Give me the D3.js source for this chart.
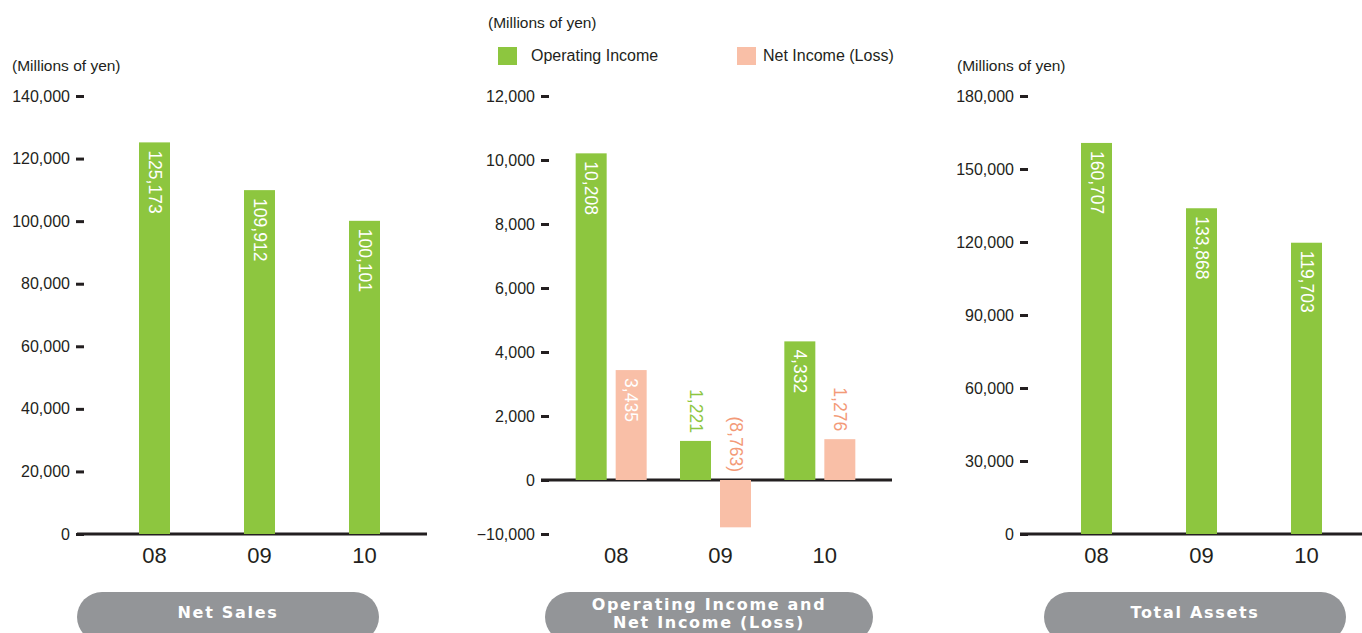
<!DOCTYPE html>
<html>
<head>
<meta charset="utf-8">
<script src="https://cdn.jsdelivr.net/npm/d3@7"></script>
<style>
  body { margin: 0; background: #fff; }
  svg { display: block; font-family: "Liberation Sans", Arial, sans-serif; }
  .tick text { fill: #231f20; font-size: 16px; }
  .tick line { stroke: #231f20; stroke-width: 3; }
</style>
</head>
<body>
<div class="chart"></div>
<script>
// data
var years = ["08", "09", "10"];
var netSales = [125173, 109912, 100101];
var operatingIncome = [10208, 1221, 4332];
var netIncome = [3435, -8763, 1276];
var totalAssets = [160707, 133868, 119703];
var salesTicks = [0, 20000, 40000, 60000, 80000, 100000, 120000, 140000];
var incomeTicks = [-10000, 0, 2000, 4000, 6000, 8000, 10000, 12000];
var assetTicks = [0, 30000, 60000, 90000, 120000, 150000, 180000];

var green = "#8dc63f";
var pink = "#f9bfa7";
var pinkText = "#f39a78";
var dark = "#231f20";
var gray = "#939598";

var svgWidth = 1362;
var svgHeight = 633;

var svg = d3.select(".chart")
  .append("svg")
  .attr("width", svgWidth)
  .attr("height", svgHeight);

var fmt = d3.format(",");
function labelText(v) {
  return v < 0 ? "(" + fmt(-v) + ")" : fmt(v);
}

// draws one axis + baseline + category labels
function drawFrame(yScale, ticks, axisX, lineX0, lineX1, xScale, labelShift, unitX, unitY) {
  svg.append("g")
    .attr("transform", `translate(${axisX + 8}, 0)`)
    .call(d3.axisLeft(yScale).tickValues(ticks).tickSize(8).tickPadding(6).tickFormat(fmt))
    .call(g => g.select(".domain").remove());

  svg.append("line")
    .attr("x1", lineX0).attr("x2", lineX1)
    .attr("y1", yScale(0)).attr("y2", yScale(0))
    .attr("stroke", dark)
    .attr("stroke-width", 3);

  svg.append("g").selectAll("text")
    .data(years)
    .enter()
    .append("text")
    .attr("x", d => xScale(d) + xScale.bandwidth() / 2 + labelShift)
    .attr("y", 563)
    .attr("text-anchor", "middle")
    .attr("font-size", "22px")
    .attr("fill", dark)
    .text(d => d);

  svg.append("text")
    .attr("x", unitX)
    .attr("y", unitY)
    .attr("font-size", "15.5px")
    .attr("fill", dark)
    .text("(Millions of yen)");
}

// bars with rotated value labels
function drawBars(values, xPos, width, yScale, color, textColor) {
  var zero = yScale(0);
  var g = svg.append("g");
  g.selectAll("rect")
    .data(values)
    .enter()
    .append("rect")
    .attr("x", (d, i) => xPos(i))
    .attr("y", d => Math.min(yScale(d), zero))
    .attr("width", width)
    .attr("height", d => Math.abs(yScale(d) - zero))
    .attr("fill", color);

  g.selectAll("text")
    .data(values)
    .enter()
    .append("text")
    .each(function(d, i) {
      var top = Math.min(yScale(d), zero);
      var h = Math.abs(yScale(d) - zero);
      var inside = d > 0 && h > 90;
      var cx = xPos(i) + width / 2;
      var t = d3.select(this)
        .attr("font-size", "17.5px")
        .attr("dominant-baseline", "central")
        .text(labelText(d));
      if (inside) {
        t.attr("transform", `translate(${cx}, ${top + 8}) rotate(90)`)
          .attr("text-anchor", "start")
          .attr("fill", "#fff");
      } else {
        t.attr("transform", `translate(${cx}, ${top - 8}) rotate(90)`)
          .attr("text-anchor", "end")
          .attr("fill", textColor);
      }
    });
}

function drawPill(x0, x1, lines) {
  svg.append("rect")
    .attr("x", x0).attr("y", 592)
    .attr("width", x1 - x0).attr("height", 50)
    .attr("rx", 25)
    .attr("fill", gray);
  lines.forEach(function(s, i) {
    svg.append("text")
      .attr("x", (x0 + x1) / 2)
      .attr("y", lines.length == 1 ? 618 : 610 + i * 18)
      .attr("text-anchor", "middle")
      .attr("font-family", "'DejaVu Sans', sans-serif")
      .attr("font-weight", "bold")
      .attr("font-size", "16px")
      .attr("letter-spacing", "1.7px")
      .attr("fill", "#fff")
      .text(s);
  });
}

// Net Sales
var y1 = d3.scaleLinear().domain([0, 140000]).range([534, 96]);
var x1 = d3.scaleBand().domain(years).range([102, 417]);
drawFrame(y1, salesTicks, 76, 77, 427, x1, 0, 12, 71);
drawBars(netSales, i => x1(years[i]) + x1.bandwidth() / 2 - 15.5, 31, y1, green, green);
drawPill(77, 379, ["Net Sales"]);

// Operating income / net income, compressed negative part
var y2 = d3.scaleLinear().domain([-10000, 0, 12000]).range([534, 480, 96]);
var x2 = d3.scaleBand().domain(years).range([559, 872]);
drawFrame(y2, incomeTicks, 541, 541, 892, x2, 5, 488, 28);
drawBars(operatingIncome, i => x2(years[i]) + x2.bandwidth() / 2 - 35.5, 31, y2, green, green);
drawBars(netIncome, i => x2(years[i]) + x2.bandwidth() / 2 + 4.5, 31, y2, pink, pinkText);
drawPill(545, 873, ["Operating Income and", "Net Income (Loss)"]);

// legend
var legendNames = ["Operating Income", "Net Income (Loss)"];
var legendColors = [green, pink];
var legendX = [498, 737];
var legendTextX = [531, 763];
legendNames.forEach(function(name, i) {
  svg.append("rect").attr("x", legendX[i]).attr("y", 47).attr("width", 19).attr("height", 18).attr("fill", legendColors[i]);
  svg.append("text").attr("x", legendTextX[i]).attr("y", 61).attr("font-size", "16px").attr("fill", dark).text(name);
});

// Total assets
var y3 = d3.scaleLinear().domain([0, 180000]).range([534, 96]);
var x3 = d3.scaleBand().domain(years).range([1044, 1359]);
drawFrame(y3, assetTicks, 1020, 1020, 1362, x3, 0, 957, 71);
drawBars(totalAssets, i => x3(years[i]) + x3.bandwidth() / 2 - 15.5, 31, y3, green, green);
drawPill(1044, 1346, ["Total Assets"]);
</script>
</body>
</html>
